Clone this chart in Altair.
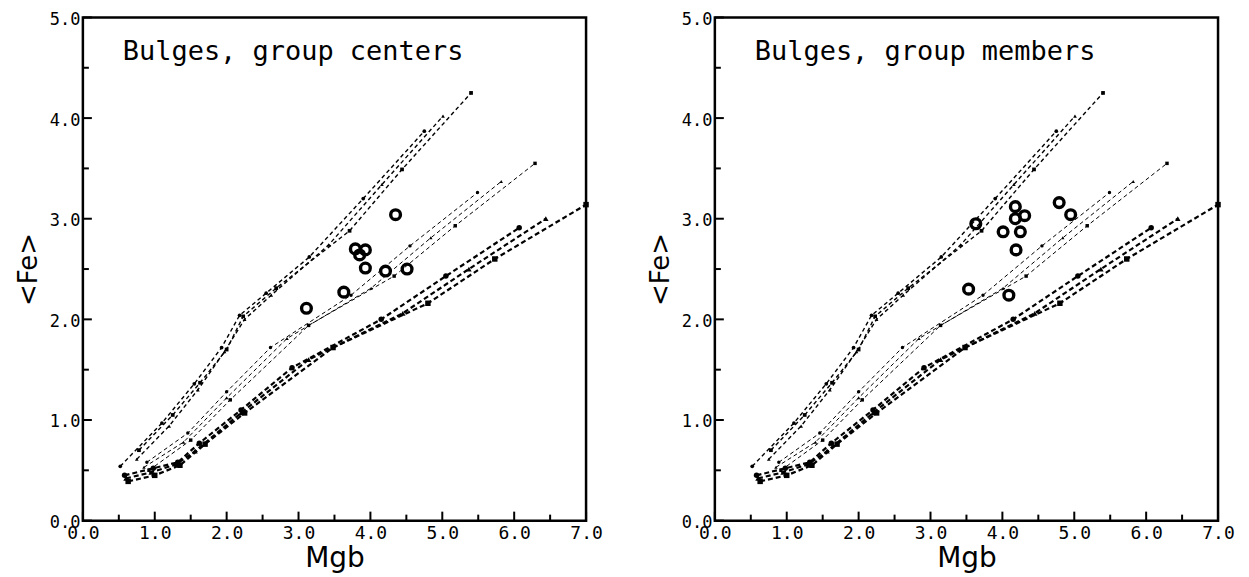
import altair as alt
import pandas as pd

# ---- model grid: three families (upper / middle / lower), three tracks each ----
A1_x = [0.52, 1.10, 1.55, 1.93, 2.18, 2.55, 3.15, 3.90, 4.75]
A1_y = [0.54, 0.97, 1.36, 1.72, 2.04, 2.26, 2.62, 3.20, 3.87]
A2_x = [0.75, 1.20, 1.60, 1.97, 2.25, 2.62, 3.42, 4.16, 5.01]
A2_y = [0.61, 0.94, 1.30, 1.68, 2.00, 2.24, 2.74, 3.34, 4.02]
A3_x = [0.78, 1.25, 1.63, 2.00, 2.23, 2.69, 3.71, 4.44, 5.40]
A3_y = [0.70, 1.05, 1.37, 1.70, 2.03, 2.31, 2.88, 3.49, 4.25]

B1_x = [0.89, 1.46, 2.00, 2.61, 3.73, 4.55, 5.49]
B1_y = [0.58, 0.87, 1.28, 1.72, 2.24, 2.73, 3.26]
B2_x = [0.85, 1.40, 2.00, 2.84, 4.01, 4.84, 5.82]
B2_y = [0.53, 0.78, 1.22, 1.81, 2.31, 2.81, 3.37]
B3_x = [0.92, 1.50, 2.05, 3.14, 4.33, 5.18, 6.29]
B3_y = [0.50, 0.80, 1.20, 1.94, 2.43, 2.93, 3.55]

C1_x = [0.58, 0.98, 1.32, 1.62, 2.20, 2.91, 4.15, 5.05, 6.07]
C1_y = [0.45, 0.52, 0.58, 0.77, 1.10, 1.52, 2.00, 2.43, 2.91]
C2_x = [0.60, 0.95, 1.30, 1.56, 2.20, 3.14, 4.45, 5.37, 6.44]
C2_y = [0.42, 0.48, 0.56, 0.69, 1.07, 1.60, 2.06, 2.50, 3.00]
C3_x = [0.63, 1.00, 1.35, 1.70, 2.25, 3.48, 4.80, 5.73, 7.00]
C3_y = [0.39, 0.45, 0.55, 0.76, 1.07, 1.72, 2.16, 2.60, 3.14]

# ---- observed bulges ----
centers_x = [3.11, 3.63, 3.79, 3.85, 3.93, 3.93, 4.21, 4.35, 4.51]
centers_y = [2.11, 2.27, 2.70, 2.64, 2.69, 2.51, 2.48, 3.04, 2.50]
members_x = [3.53, 3.63, 4.01, 4.09, 4.18, 4.18, 4.19, 4.25, 4.31, 4.79, 4.95]
members_y = [2.30, 2.95, 2.87, 2.24, 3.12, 3.00, 2.69, 2.87, 3.03, 3.16, 3.04]

panel_titles = ["Bulges, group centers", "Bulges, group members"]

x_major = [0, 1, 2, 3, 4, 5, 6, 7]
x_minor = [0.5, 1.5, 2.5, 3.5, 4.5, 5.5, 6.5]
y_major = [0, 1, 2, 3, 4, 5]
y_minor = [0.5, 1.5, 2.5, 3.5, 4.5]

tracks = [
    ("A", "A1", "circle", A1_x, A1_y), ("A", "A2", "triangle-up", A2_x, A2_y), ("A", "A3", "square", A3_x, A3_y),
    ("B", "B1", "circle", B1_x, B1_y), ("B", "B2", "triangle-up", B2_x, B2_y), ("B", "B3", "square", B3_x, B3_y),
    ("C", "C1", "circle", C1_x, C1_y), ("C", "C2", "triangle-up", C2_x, C2_y), ("C", "C3", "square", C3_x, C3_y),
]
rows = []
for fam, name, shp, xs_, ys_ in tracks:
    for i, (a, b) in enumerate(zip(xs_, ys_)):
        rows.append({"fam": fam, "track": name, "shape": shp, "order": i, "mgb": a, "fe": b})
models = pd.DataFrame(rows)

W, H = 504, 504
MONO = "DejaVu Sans Mono"
SANS = "DejaVu Sans"

xs = alt.Scale(domain=[0, 7], nice=False, zero=False)
ys = alt.Scale(domain=[0, 5], nice=False, zero=False)

AX_X = alt.Axis(values=x_major, format=".1f", ticks=False, domain=False, grid=False,
                labelFont=MONO, labelFontSize=18, labelColor="black", labelPadding=4,
                labelFlush=False, labelOverlap=False,
                titleFont=SANS, titleFontSize=28, titleFontWeight="normal",
                titleColor="black", titlePadding=2)
AX_Y = alt.Axis(values=y_major, format=".1f", ticks=False, domain=False, grid=False,
                labelFont=MONO, labelFontSize=17, labelColor="black", labelPadding=3,
                labelOffset=2, labelFlush=False, labelOverlap=False,
                titleFont=SANS, titleFontSize=26, titleFontWeight="normal",
                titleColor="black", titlePadding=8)


def X(field):
    return alt.X(field, type="quantitative", scale=xs, axis=AX_X, title="Mgb")


def Y(field):
    return alt.Y(field, type="quantitative", scale=ys, axis=AX_Y, title="<Fe>")


styles = {"A": (1.4, [4, 3], 14), "B": (1.0, [4, 3], 12), "C": (2.2, [5, 3], 30)}


def panel(title, ox, oy):
    obs = pd.DataFrame({"mgb": ox, "fe": oy})
    layers = []
    circ = alt.Chart(obs).mark_point(shape="circle", filled=False, color="black", size=95,
                                     strokeWidth=3.4, opacity=1).encode(x=X("mgb"), y=Y("fe"))
    for fam in ["A", "B", "C"]:
        sw, dash, msize = styles[fam]
        sub = models[models.fam == fam]
        ln = alt.Chart(sub).mark_line(color="black", strokeWidth=sw, strokeDash=dash).encode(
            x=X("mgb"), y=Y("fe"), detail="track:N", order="order:Q")
        pt = alt.Chart(sub).mark_point(filled=True, color="black", size=msize, opacity=1).encode(
            x=X("mgb"), y=Y("fe"), shape=alt.Shape("shape:N", scale=None, legend=None))
        layers += [ln, pt]
    layers.append(circ)

    xmaj = alt.Chart(pd.DataFrame({"v": x_major})).mark_rule(color="black", strokeWidth=2).encode(
        x=X("v"), y=alt.value(H), y2=alt.value(H - 9))
    xmin = alt.Chart(pd.DataFrame({"v": x_minor})).mark_rule(color="black", strokeWidth=2).encode(
        x=X("v"), y=alt.value(H), y2=alt.value(H - 6))
    ymaj = alt.Chart(pd.DataFrame({"v": y_major})).mark_rule(color="black", strokeWidth=2).encode(
        y=Y("v"), x=alt.value(0), x2=alt.value(9))
    ymin = alt.Chart(pd.DataFrame({"v": y_minor})).mark_rule(color="black", strokeWidth=2).encode(
        y=Y("v"), x=alt.value(0), x2=alt.value(6))
    layers += [xmaj, xmin, ymaj, ymin]

    txt = alt.Chart(pd.DataFrame({"t": [title]})).mark_text(
        align="left", baseline="alphabetic", font=MONO, fontSize=27, color="black").encode(
        text="t:N", x=alt.value(40), y=alt.value(43))
    layers.append(txt)

    return alt.layer(*layers).properties(width=W, height=H)


chart = alt.hconcat(
    panel(panel_titles[0], centers_x, centers_y),
    panel(panel_titles[1], members_x, members_y),
    spacing=42,
).properties(
    padding={"left": 6, "top": 0, "right": 5, "bottom": 5},
    background="white",
).configure_view(stroke="black", strokeWidth=2.5)

chart.save("out.html", embed_options={"renderer": "svg", "actions": False})
